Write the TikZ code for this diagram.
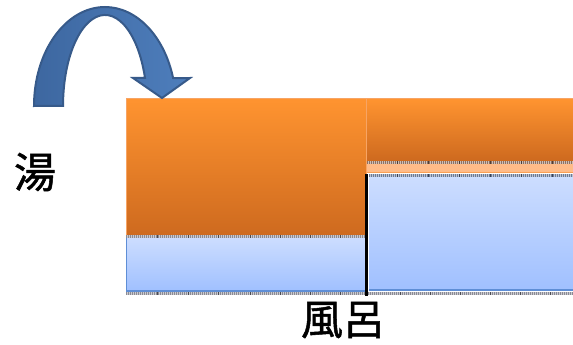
\documentclass[tikz,border=0pt]{standalone}
\usepackage{fontspec}
\newfontfamily\cjk[FakeBold=1.2]{Noto Sans CJK JP}
\begin{document}
\begin{tikzpicture}[x=1pt,y=-1pt,
  orangebox/.style={top color=orTop,bottom color=orBot,draw=none},
  bluebox/.style={top color=blTop,bottom color=blBot,draw=none},
  strip/.style={draw=#1,line width=3pt,dash pattern=on 1pt off 1pt},
  stripbase/.style={draw=#1!45!white,line width=3pt},
  tick/.style={draw=#1!55!black,line width=0.7pt},
  lbl/.style={font=\cjk\fontsize{42}{44}\selectfont,inner sep=0pt}]
\definecolor{orTop}{HTML}{FF9430}
\definecolor{orBot}{HTML}{CE6A1F}
\definecolor{orEdge}{HTML}{F7A464}
\definecolor{blTop}{HTML}{CCDDFF}
\definecolor{blBot}{HTML}{A0C0FF}
\definecolor{blEdge}{HTML}{5E8ED6}
\definecolor{arFill}{HTML}{4E7EBC}
\definecolor{arDark}{HTML}{3D67A0}
\definecolor{arEdge}{HTML}{375A8A}
\definecolor{peach}{HTML}{FFBB88}
\definecolor{stripGray}{HTML}{8A8A94}
\definecolor{stripBrown}{HTML}{907060}
\definecolor{stripBlue}{HTML}{6A7A98}
\useasboundingbox (0,0) rectangle (573,345);

% left block
\path[orangebox] (126,98) rectangle (366,235);
\draw[orEdge,line width=0.8pt] (126,98.4) -- (573,98.4);
\draw[orEdge,line width=0.8pt] (126.4,98) -- (126.4,235);
\draw[orEdge,line width=0.8pt] (366.5,98) -- (366.5,174);
\path[bluebox] (126,238) rectangle (366,291);
\draw[blEdge,line width=1.2pt] (126.6,238) -- (126.6,291) -- (366,291);
\draw[stripbase=stripGray] (126,236.5) -- (366,236.5);
\draw[strip=stripGray] (126,236.5) -- (366,236.5);

% right block
\path[orangebox] (367,99) rectangle (573,160);
\draw[stripbase=stripBrown] (367,162) -- (573,162);
\draw[strip=stripBrown] (367,162) -- (573,162);
\fill[peach] (367,163.5) rectangle (573,172);
\draw[orEdge!70!orTop,line width=1pt] (367,172.5) -- (573,172.5);
\draw[stripbase=stripBlue] (369,175.5) -- (573,175.5);
\draw[strip=stripBlue] (369,175.5) -- (573,175.5);
\path[bluebox] (369,177) rectangle (573,290);
\draw[blEdge,line width=1.2pt] (369,290) -- (573,290);

% bottom strip
\draw[stripbase=stripGray] (126,293.5) -- (573,293.5);
\draw[strip=stripGray] (126,293.5) -- (573,293.5);
\foreach \x in {157,188,218,250,280,310,340} {
  \draw[tick=stripGray] (\x,235) -- (\x,238);
}
\foreach \x in {157,188,218,250,280,310,340,400,430,460,490,520,550} {
  \draw[tick=stripGray] (\x,292) -- (\x,295);
}
\foreach \x in {397,428,459,490,521,552} {
  \draw[tick=stripBrown] (\x,160.5) -- (\x,163.5);
  \draw[tick=stripBlue] (\x,174) -- (\x,177);
}

% partition wall
\coordinate (wt) at (366.5,174);
\coordinate (wb) at (366.5,296);
\draw[black,line width=3.5pt] (wt) -- (wb);

% curved arrow
\path[left color=arDark,right color=arFill,draw=arEdge,line width=2pt,line join=miter]
  (34,106) arc[start angle=180,end angle=343.6,x radius=71,y radius=99]
  -- (190,78) -- (162,98) -- (133,78) -- (145,78)
  arc[start angle=342.1,end angle=180,x radius=42,y radius=91] -- cycle;

% labels
\node[lbl] (yu) at (35,172) {湯};
\node[lbl] (furo) at (343,320) {風呂};
\end{tikzpicture}
\end{document}
